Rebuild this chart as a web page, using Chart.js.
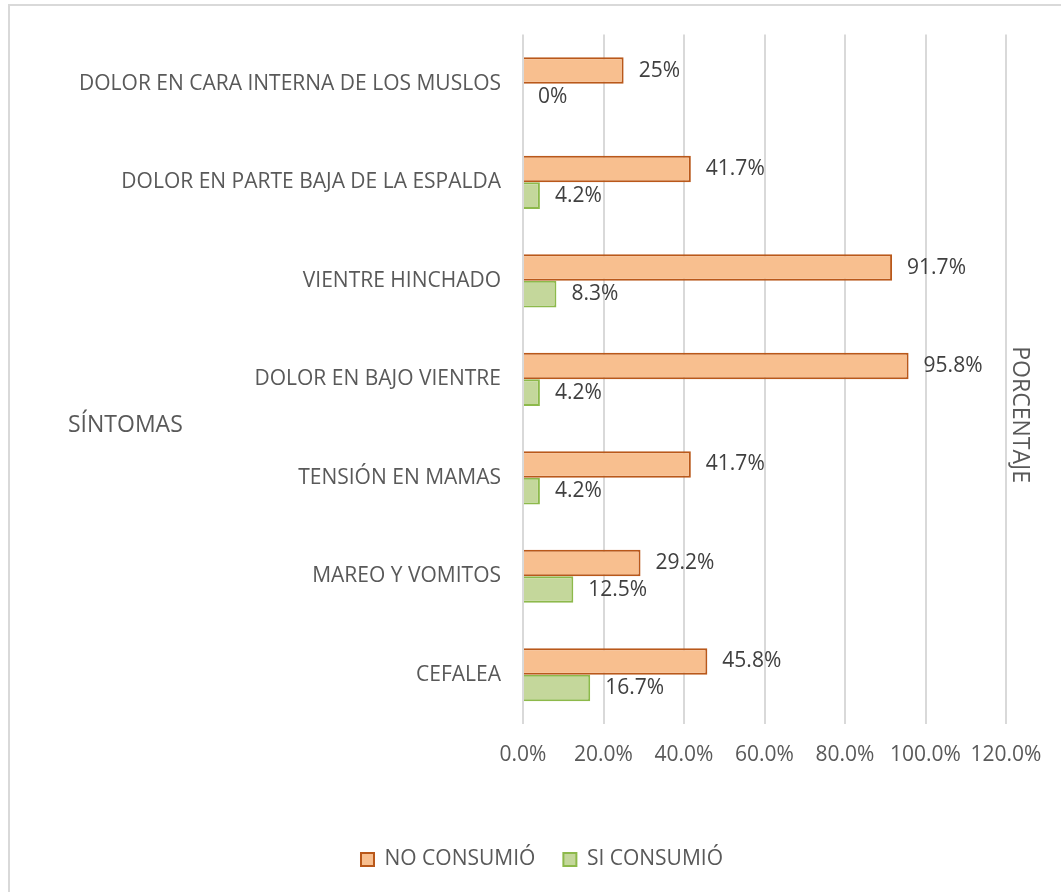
<!DOCTYPE html>
<html>
<head>
<meta charset="utf-8">
<script src="https://cdn.jsdelivr.net/npm/chart.js@4/dist/chart.umd.min.js"></script>
<style>
  html, body { margin: 0; padding: 0; background: #fff; }
  #wrap { width: 1061px; height: 892px; position: relative; }
</style>
</head>
<body>
<div id="wrap"><canvas id="chart"></canvas></div>
<script>
'use strict'

// data (top to bottom)
var categories = [
  'DOLOR EN CARA INTERNA DE LOS MUSLOS',
  'DOLOR EN PARTE BAJA DE LA ESPALDA',
  'VIENTRE HINCHADO',
  'DOLOR EN BAJO VIENTRE',
  'TENSIÓN EN MAMAS',
  'MAREO Y VOMITOS',
  'CEFALEA'
]
var noConsumio = [25, 41.7, 91.7, 95.8, 41.7, 29.2, 45.8]
var siConsumio = [0, 4.2, 8.3, 4.2, 4.2, 12.5, 16.7]
var seriesNames = ['NO CONSUMIÓ', 'SI CONSUMIÓ']
var xTicks = [0, 20, 40, 60, 80, 100, 120]

var FONT = '"Open Sans", "Noto Sans", sans-serif'
var TEXT = '#595959'
var LEFT = 78

function pct(v) {
  return Number.isInteger(v) ? v + '%' : v.toFixed(1) + '%'
}

// outer frame + white background
var framePlugin = {
  id: 'frame',
  beforeDraw: function (chart) {
    var ctx = chart.ctx
    ctx.save()
    ctx.fillStyle = '#fff'
    ctx.fillRect(0, 0, chart.width, chart.height)
    ctx.strokeStyle = '#d9d9d9'
    ctx.lineWidth = 2
    ctx.strokeRect(9, 5, chart.width + 20, chart.height + 20)
    ctx.restore()
  }
}

// value labels next to each bar
var labelPlugin = {
  id: 'barLabels',
  afterDatasetsDraw: function (chart) {
    var ctx = chart.ctx
    ctx.save()
    ctx.font = '21px ' + FONT
    ctx.fillStyle = '#404040'
    ctx.textAlign = 'left'
    ctx.textBaseline = 'middle'
    chart.data.datasets.forEach(function (ds, i) {
      chart.getDatasetMeta(i).data.forEach(function (bar, j) {
        ctx.fillText(pct(ds.data[j]), bar.x + 15, bar.y)
      })
    })
    ctx.restore()
  }
}

// axis titles the way the original places them
var titlePlugin = {
  id: 'axisTitles',
  afterDraw: function (chart) {
    var ctx = chart.ctx
    var area = chart.chartArea
    ctx.save()
    ctx.font = '23px ' + FONT
    ctx.fillStyle = TEXT
    ctx.textBaseline = 'middle'
    ctx.textAlign = 'left'
    ctx.fillText('SÍNTOMAS', 68, area.top + 391)
    ctx.translate(area.right + 14, area.top + 380)
    ctx.rotate(Math.PI / 2)
    ctx.textAlign = 'center'
    ctx.fillText('PORCENTAJE', 0, 0)
    ctx.restore()
  }
}

new Chart(document.getElementById('chart'), {
  type: 'bar',
  data: {
    labels: categories,
    datasets: [{
      label: seriesNames[0],
      data: noConsumio,
      backgroundColor: '#F8BF8F',
      borderColor: '#B9581A',
      borderWidth: 2
    }, {
      label: seriesNames[1],
      data: siConsumio,
      backgroundColor: '#C4D79B',
      borderColor: '#8DB94B',
      borderWidth: 2
    }]
  },
  options: {
    indexAxis: 'y',
    responsive: true,
    maintainAspectRatio: false,
    animation: false,
    datasets: { bar: { categoryPercentage: 0.54, barPercentage: 1.0 } },
    layout: { padding: { left: LEFT, right: 55, top: 33, bottom: 12 } },
    scales: {
      x: {
        min: 0,
        max: 120,
        afterBuildTicks: function (scale) {
          scale.ticks = xTicks.map(function (v) { return { value: v } })
        },
        afterFit: function (scale) { scale.height = 97 },
        grid: { color: '#d9d9d9', lineWidth: 2, drawTicks: false },
        border: { display: false },
        ticks: {
          padding: 18,
          color: TEXT,
          font: { family: FONT, size: 21 },
          maxRotation: 0,
          callback: function (v) { return Number(v).toFixed(1) + '%' }
        }
      },
      y: {
        afterFit: function (scale) { scale.width = 523 - LEFT },
        grid: { display: false, drawTicks: false },
        border: { display: false },
        ticks: {
          padding: 22,
          color: TEXT,
          font: { family: FONT, size: 21 }
        }
      }
    },
    plugins: {
      legend: {
        position: 'bottom',
        labels: {
          boxWidth: 13,
          boxHeight: 13,
          padding: 28,
          color: TEXT,
          font: { family: FONT, size: 21 }
        }
      },
      tooltip: { enabled: false }
    }
  },
  plugins: [framePlugin, labelPlugin, titlePlugin]
})
</script>
</body>
</html>
